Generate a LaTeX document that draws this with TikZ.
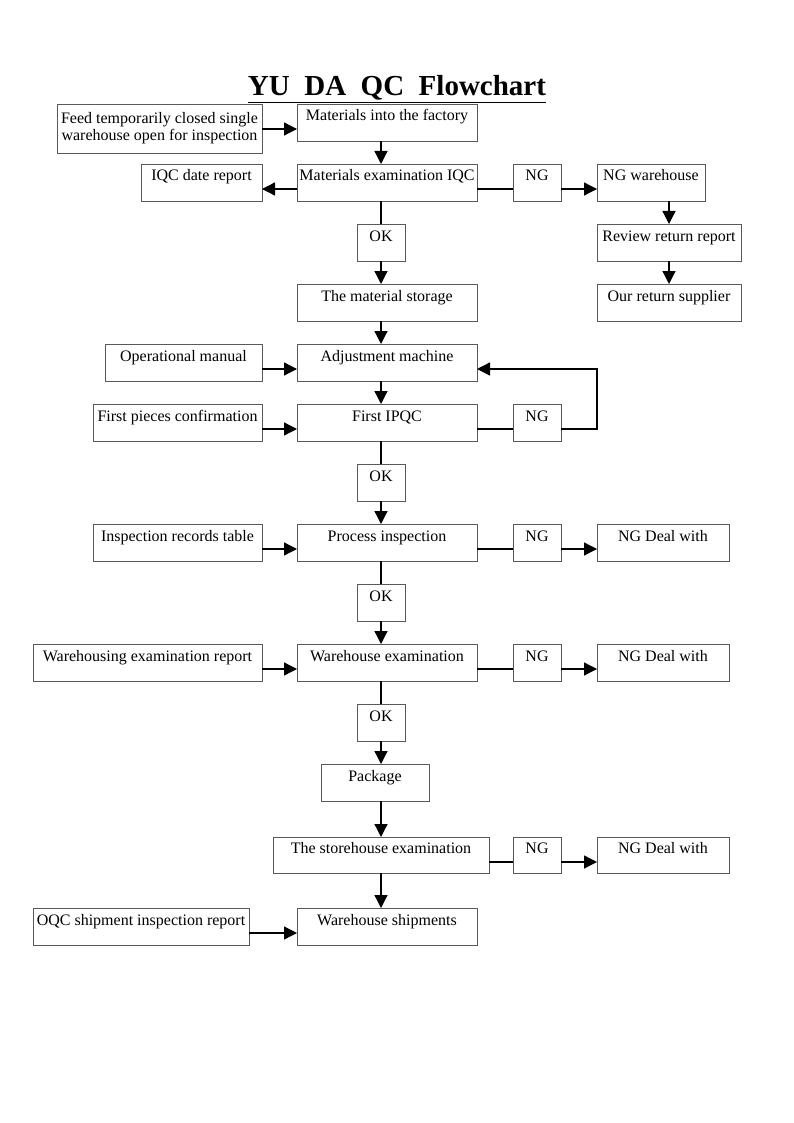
\documentclass[tikz,border=0pt]{standalone}
\usepackage{fontspec}
\setmainfont{Liberation Serif}
\usetikzlibrary{arrows.meta,calc}
\begin{document}
\begin{tikzpicture}[x=1pt,y=-1pt,
  boxbase/.style={draw=black!65, line width=0.9pt, inner sep=0pt, outer sep=0pt,
    anchor=north west, minimum height=37pt, font=\fontsize{16}{16.7}\selectfont},
  box/.style={boxbase, text height=11pt, text depth=14pt},
  ln/.style={line width=1.3pt, black},
  arr/.style={ln, -{Triangle[length=13pt,width=13pt]}},
]
\useasboundingbox[fill=white] (0,0) rectangle (793,1123);
\coordinate (cx) at (381,0);
\node[anchor=base] (title) at (397,96) {\fontsize{29}{30}\selectfont\bfseries\underline{YU\ \ DA\ \ QC\ \ Flowchart}};

\node[boxbase, minimum width=205pt, minimum height=49pt, align=center] (feed) at (57,104) {Feed temporarily closed single\\warehouse open for inspection};
\node[box, minimum width=180pt] (mat1) at (297,104) {Materials into the factory};
\node[box, minimum width=121pt] (iqcrep) at (141,164) {IQC date report};
\node[box, minimum width=180pt] (iqc) at (297,164) {Materials examination IQC};
\node[box, minimum width=48pt] (ng1) at (513,164) {NG};
\node[box, minimum width=108pt] (ngwh) at (597,164) {NG warehouse};
\node[box, minimum width=48pt] (ok1) at (357,224) {OK};
\node[box, minimum width=144pt] (review) at (597,224) {Review return report};
\node[box, minimum width=180pt] (storage) at (297,284) {The material storage};
\node[box, minimum width=144pt] (supplier) at (597,284) {Our return supplier};
\node[box, minimum width=157pt] (opman) at (105,344) {Operational manual};
\node[box, minimum width=180pt] (adj) at (297,344) {Adjustment machine};
\node[box, minimum width=169pt] (fpc) at (93,404) {First pieces confirmation};
\node[box, minimum width=180pt] (ipqc) at (297,404) {First IPQC};
\node[box, minimum width=48pt] (ng2) at (513,404) {NG};
\node[box, minimum width=48pt] (ok2) at (357,464) {OK};
\node[box, minimum width=169pt] (irt) at (93,524) {Inspection records table};
\node[box, minimum width=180pt] (proc) at (297,524) {Process inspection};
\node[box, minimum width=48pt] (ng3) at (513,524) {NG};
\node[box, minimum width=132pt] (ngd1) at (597,524) {NG Deal with};
\node[box, minimum width=48pt] (ok3) at (357,584) {OK};
\node[box, minimum width=229pt] (wer) at (33,644) {Warehousing examination report};
\node[box, minimum width=180pt] (whex) at (297,644) {Warehouse examination};
\node[box, minimum width=48pt] (ng4) at (513,644) {NG};
\node[box, minimum width=132pt] (ngd2) at (597,644) {NG Deal with};
\node[box, minimum width=48pt] (ok4) at (357,704) {OK};
\node[box, minimum width=108pt] (pkg) at (321,764) {Package};
\node[box, minimum width=216pt, minimum height=36pt] (store) at (273,837) {The storehouse examination};
\node[box, minimum width=48pt, minimum height=36pt] (ng5) at (513,837) {NG};
\node[box, minimum width=132pt, minimum height=36pt] (ngd3) at (597,837) {NG Deal with};
\node[box, minimum width=216pt] (oqc) at (33,908) {OQC shipment inspection report};
\node[box, minimum width=180pt] (ship) at (297,908) {Warehouse shipments};

% horizontal connectors
\draw[arr] ($(feed.north east)+(0,25)$) -- ($(mat1.north west)+(0,25)$);
\draw[arr] ($(iqc.north west)+(0,25)$) -- ($(iqcrep.north east)+(0,25)$);
\draw[ln] ($(iqc.north east)+(0,25)$) -- ($(ng1.north west)+(0,25)$);
\draw[arr] ($(ng1.north east)+(0,25)$) -- ($(ngwh.north west)+(0,25)$);
\draw[arr] ($(opman.north east)+(0,25)$) -- ($(adj.north west)+(0,25)$);
\draw[arr] ($(fpc.north east)+(0,25)$) -- ($(ipqc.north west)+(0,25)$);
\draw[ln] ($(ipqc.north east)+(0,25)$) -- ($(ng2.north west)+(0,25)$);
\draw[arr] ($(ng2.north east)+(0,25)$) -- ++(36,0) |- ($(adj.north east)+(0,25)$);
\draw[arr] ($(irt.north east)+(0,25)$) -- ($(proc.north west)+(0,25)$);
\draw[ln] ($(proc.north east)+(0,25)$) -- ($(ng3.north west)+(0,25)$);
\draw[arr] ($(ng3.north east)+(0,25)$) -- ($(ngd1.north west)+(0,25)$);
\draw[arr] ($(wer.north east)+(0,25)$) -- ($(whex.north west)+(0,25)$);
\draw[ln] ($(whex.north east)+(0,25)$) -- ($(ng4.north west)+(0,25)$);
\draw[arr] ($(ng4.north east)+(0,25)$) -- ($(ngd2.north west)+(0,25)$);
\draw[ln] ($(store.north east)+(0,25)$) -- ($(ng5.north west)+(0,25)$);
\draw[arr] ($(ng5.north east)+(0,25)$) -- ($(ngd3.north west)+(0,25)$);
\draw[arr] ($(oqc.north east)+(0,25)$) -- ($(ship.north west)+(0,25)$);

% vertical connectors
\draw[arr] (mat1.south -| cx) -- (iqc.north -| cx);
\draw[ln] (iqc.south -| cx) -- (ok1.north);
\draw[arr] (ok1.south) -- (storage.north -| cx);
\draw[arr] (storage.south -| cx) -- (adj.north -| cx);
\draw[arr] (adj.south -| cx) -- (ipqc.north -| cx);
\draw[ln] (ipqc.south -| cx) -- (ok2.north);
\draw[arr] (ok2.south) -- (proc.north -| cx);
\draw[ln] (proc.south -| cx) -- (ok3.north);
\draw[arr] (ok3.south) -- (whex.north -| cx);
\draw[ln] (whex.south -| cx) -- (ok4.north);
\draw[arr] (ok4.south) -- (pkg.north -| cx);
\draw[arr] (pkg.south -| cx) -- (store.north -| cx);
\draw[arr] (store.south -| cx) -- (ship.north -| cx);
\draw[arr] (ngwh.south -| review.south) -- (review.north);
\draw[arr] (review.south) -- (supplier.north);
\end{tikzpicture}
\end{document}
